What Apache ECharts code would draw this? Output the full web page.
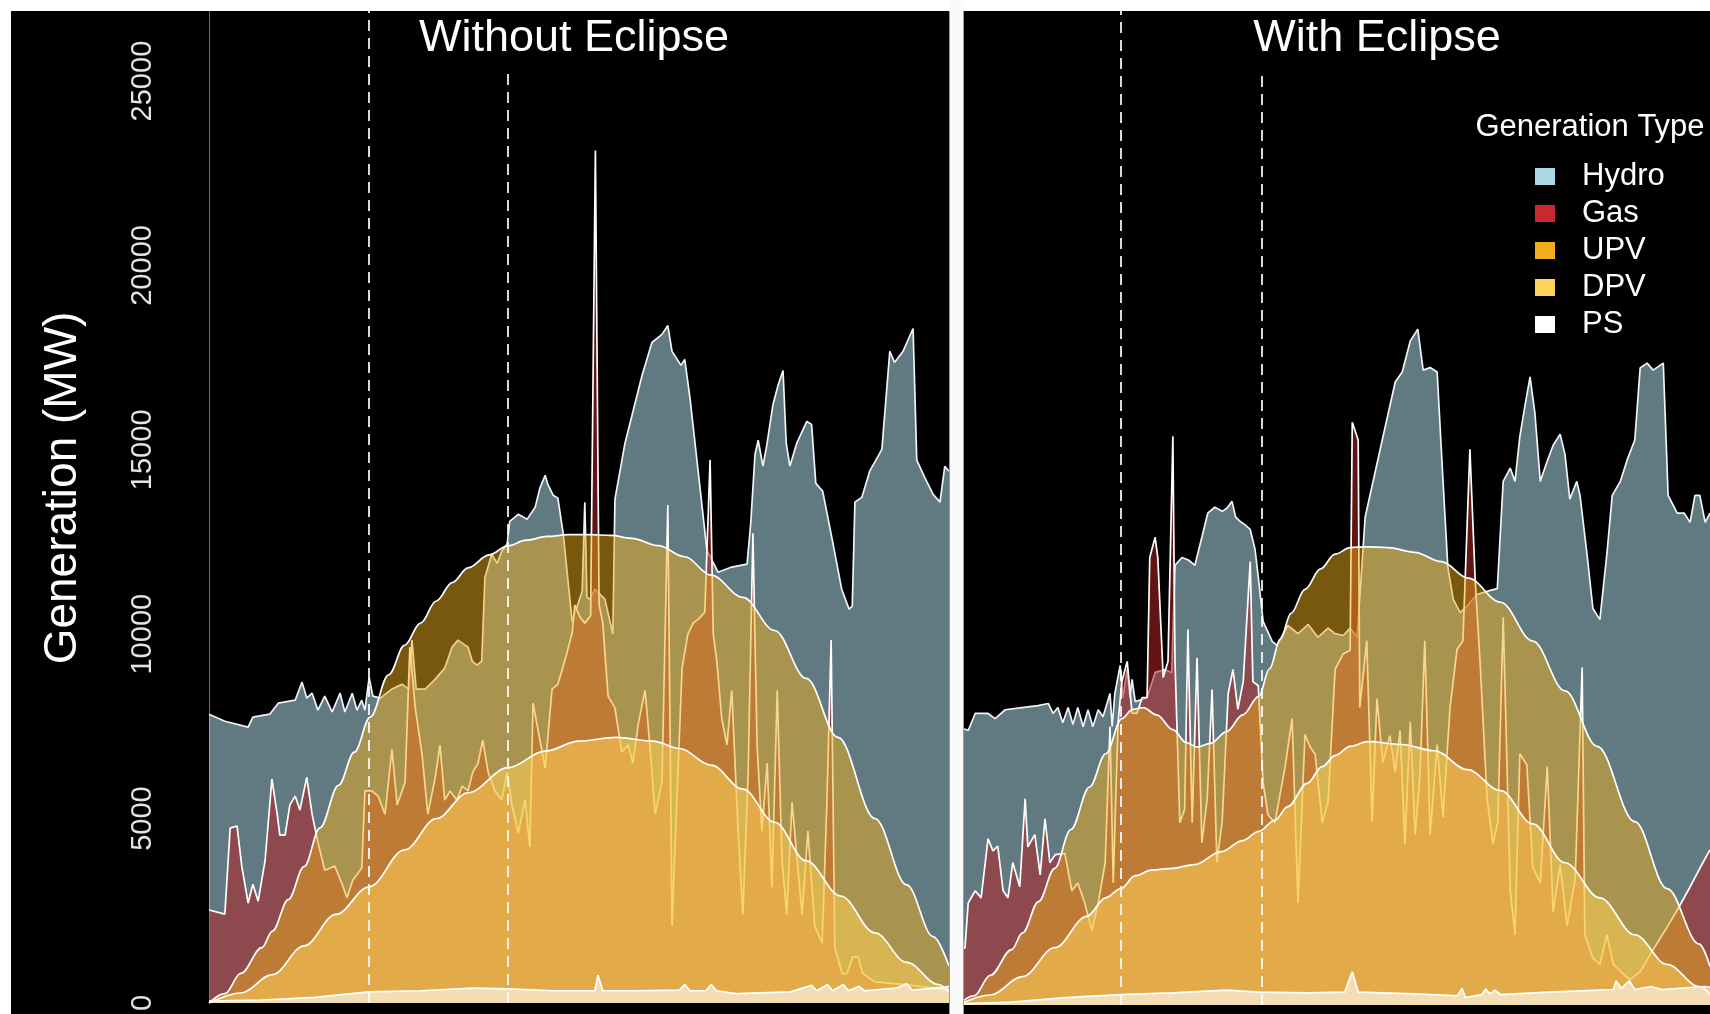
<!DOCTYPE html>
<html>
<head>
<meta charset="utf-8">
<title>Generation by type, with and without eclipse</title>
<script src="https://cdn.jsdelivr.net/npm/echarts@6/dist/echarts.min.js"></script>
<style>
html,body{margin:0;padding:0;background:#fff;}
#chart{width:1710px;height:1014px;}
</style>
</head>
<body>
<div id="chart"></div>
<script>
// generation types, drawn in this order
var types = ['Hydro', 'Gas', 'UPV', 'DPV', 'PS'];
var panelTitles = ['Without Eclipse', 'With Eclipse'];
var eclipseTimes = [9.03, 11.65];          // start / end of the eclipse (hour of day)
var yTicks = [0, 5000, 10000, 15000, 20000, 25000];

// ---- Without Eclipse : [hour, MW]
var hydroNoEclipse = [[6.00,7830],[6.30,7640],[6.74,7480],[6.83,7750],[7.15,7830],[7.31,8130],[7.63,8210],[7.76,8700],[7.85,8265],[7.95,8400],[8.06,7940],[8.19,8320],[8.33,7890],[8.48,8400],[8.57,7890],[8.71,8400],[8.80,7940],[8.89,8210],[8.95,7940],[9.03,8830],[9.10,8320],[9.24,8265],[9.46,8510],[9.65,8645],[9.78,8510],[9.84,9840],[9.92,8510],[10.09,8510],[10.28,8780],[10.46,9080],[10.60,9650],[10.71,9840],[10.90,9650],[10.98,9270],[11.07,9160],[11.16,9270],[11.22,11540],[11.35,12170],[11.45,11920],[11.54,12250],[11.64,12440],[11.69,13060],[11.85,13250],[12.02,13120],[12.17,13440],[12.26,13960],[12.36,14310],[12.41,14060],[12.51,13770],[12.60,13690],[12.70,12740],[12.87,10350],[13.06,11165],[13.11,13580],[13.15,11000],[13.21,10950],[13.30,11220],[13.49,10950],[13.64,10000],[13.68,13660],[13.87,15180],[14.19,17000],[14.38,17910],[14.57,18130],[14.68,18370],[14.76,17670],[14.93,17290],[15.00,17450],[15.10,16400],[15.29,13960],[15.42,12280],[15.63,11680],[15.89,11820],[16.18,11900],[16.25,13030],[16.33,14880],[16.39,15260],[16.48,14560],[16.55,15100],[16.67,16230],[16.77,16770],[16.86,17150],[16.92,15180],[16.99,14560],[17.12,15180],[17.31,15770],[17.40,15690],[17.48,14090],[17.61,13880],[17.79,12570],[17.97,11220],[18.11,10680],[18.17,10760],[18.22,13580],[18.35,13710],[18.50,14420],[18.73,15010],[18.88,17670],[18.97,17370],[19.13,17670],[19.32,18290],[19.39,14720],[19.54,14250],[19.70,13790],[19.83,13580],[19.92,14550],[20.00,14420]];
var gasNoEclipse = [[6.00,2520],[6.30,2410],[6.40,4740],[6.53,4800],[6.62,3710],[6.74,2710],[6.83,3220],[6.93,2760],[7.06,3850],[7.19,6070],[7.29,5120],[7.34,4550],[7.44,4550],[7.53,5370],[7.63,5610],[7.72,5230],[7.85,6120],[7.95,5120],[8.06,4360],[8.19,3600],[8.38,3710],[8.52,3220],[8.61,2850],[8.72,3330],[8.89,3660],[8.95,5750],[9.08,5750],[9.20,5610],[9.33,5120],[9.46,6880],[9.56,5370],[9.71,5990],[9.80,9650],[9.90,8020],[10.03,6750],[10.14,5120],[10.28,6120],[10.37,6990],[10.46,5500],[10.56,5750],[10.69,5500],[10.79,5880],[10.90,5750],[10.99,6260],[11.09,6500],[11.18,7130],[11.28,6260],[11.41,5750],[11.54,5500],[11.64,6260],[11.73,5370],[11.85,4610],[11.98,5500],[12.07,4230],[12.13,8130],[12.26,7130],[12.36,6370],[12.49,8510],[12.60,8640],[12.73,9270],[12.87,10030],[12.92,10790],[13.02,10460],[13.11,10300],[13.22,10500],[13.31,23120],[13.38,10800],[13.45,10300],[13.55,8320],[13.68,8000],[13.81,6800],[13.93,7000],[14.02,6500],[14.12,7560],[14.25,8480],[14.34,7000],[14.44,5120],[14.57,6000],[14.68,13500],[14.76,2090],[14.85,5450],[14.95,9080],[15.06,10000],[15.16,10300],[15.29,10450],[15.38,10600],[15.48,14720],[15.54,10000],[15.61,9240],[15.70,7720],[15.80,7000],[15.89,8480],[16.01,4660],[16.10,2390],[16.20,6200],[16.29,12740],[16.37,6960],[16.46,4660],[16.56,6500],[16.65,3140],[16.75,8480],[16.84,3900],[16.93,2390],[17.03,5450],[17.12,4000],[17.22,2390],[17.33,4660],[17.46,2090],[17.60,1630],[17.69,5450],[17.77,9840],[17.84,1490],[17.98,790],[18.07,800],[18.18,1250],[18.28,1250],[18.37,790],[18.60,570],[19.22,490],[20.00,350]];
var upvNoEclipse = [[6.0,0],[6.3,250],[6.6,800],[7.0,1500],[7.2,1950],[7.5,2800],[7.8,3700],[8.1,4750],[8.45,5900],[8.75,6800],[9.05,7750],[9.4,8900],[9.7,9700],[10.0,10300],[10.3,10900],[10.6,11400],[10.9,11800],[11.3,12150],[11.66,12400],[12.0,12550],[12.4,12650],[12.8,12700],[13.2,12700],[13.6,12680],[14.0,12600],[14.5,12400],[15.0,12100],[15.5,11600],[16.1,11000],[16.7,10100],[17.3,8800],[17.9,7200],[18.6,5000],[19.2,3200],[19.7,1800],[20.0,1000]];
var dpvNoEclipse = [[6.0,0],[6.6,270],[7.2,770],[7.8,1550],[8.4,2400],[9.03,3150],[9.7,4150],[10.3,5000],[10.9,5700],[11.66,6380],[12.36,6830],[13.0,7100],[13.7,7200],[14.4,7100],[14.9,6900],[15.5,6450],[16.1,5800],[16.7,4900],[17.3,3850],[17.95,2900],[18.6,1900],[19.2,1100],[19.8,500],[20.0,300]];
var psNoEclipse = [[6.0,50],[7.0,80],[8.0,150],[9.03,300],[10.0,330],[11.0,400],[11.66,380],[12.5,330],[13.0,330],[13.3,330],[13.36,750],[13.45,330],[14.0,330],[14.9,350],[15.0,500],[15.1,330],[15.4,330],[15.5,500],[15.6,330],[16.0,250],[17.0,300],[17.4,480],[17.5,330],[17.7,500],[17.8,330],[18.0,500],[18.1,330],[18.3,450],[18.4,330],[19.0,400],[19.2,520],[19.3,350],[19.9,420],[20.0,450]];

// ---- With Eclipse : [hour, MW]
var hydroEclipse = [[6.00,7530],[6.19,7430],[6.32,7890],[6.56,7890],[6.69,7750],[6.88,7990],[7.19,8050],[7.49,8100],[7.68,8160],[7.77,7890],[7.86,8050],[7.95,7640],[8.05,8050],[8.14,7590],[8.23,8050],[8.33,7530],[8.42,7990],[8.51,7530],[8.61,7990],[8.70,7800],[8.83,8430],[8.87,7530],[8.92,8430],[9.02,9190],[9.07,8320],[9.15,9080],[9.20,8320],[9.24,8810],[9.30,8210],[9.43,8270],[9.52,8320],[9.67,9000],[9.85,9080],[9.98,9000],[10.04,11900],[10.17,12110],[10.28,12050],[10.41,11900],[10.54,12660],[10.65,13310],[10.78,13470],[10.92,13360],[11.01,13450],[11.10,13630],[11.17,13200],[11.25,13090],[11.34,13000],[11.44,12870],[11.53,12330],[11.60,11460],[11.68,10380],[11.85,9840],[11.94,9730],[12.14,10270],[12.33,10050],[12.52,10300],[12.70,9950],[12.89,10200],[13.02,10050],[13.17,10000],[13.30,10200],[13.43,9950],[13.58,13200],[13.86,15040],[14.14,16860],[14.27,17130],[14.42,17970],[14.56,18290],[14.66,17180],[14.79,17250],[14.92,17130],[15.03,14170],[15.12,11840],[15.22,10980],[15.35,10620],[15.48,10800],[15.66,11110],[15.91,11220],[16.04,11270],[16.15,14170],[16.28,14530],[16.37,14170],[16.46,15390],[16.56,16260],[16.65,17000],[16.74,16020],[16.84,14170],[16.97,14720],[17.08,15150],[17.21,15450],[17.30,14900],[17.39,13690],[17.52,14170],[17.58,13790],[17.71,12200],[17.82,10730],[17.95,10430],[18.08,12200],[18.18,13790],[18.33,14170],[18.47,14800],[18.60,15290],[18.70,17240],[18.83,17370],[18.94,17180],[19.13,17370],[19.22,13790],[19.39,13310],[19.52,13310],[19.63,13060],[19.72,13790],[19.81,13790],[19.91,13060],[20.00,13310]];
var gasEclipse = [[6.00,1540],[6.13,1540],[6.19,2760],[6.32,3090],[6.43,2900],[6.56,4500],[6.65,4170],[6.74,4300],[6.84,3090],[6.93,2900],[7.02,3850],[7.15,3200],[7.25,5580],[7.30,4280],[7.43,4610],[7.53,3520],[7.62,5040],[7.71,3850],[7.81,4070],[7.99,4100],[8.12,3090],[8.23,3300],[8.36,2760],[8.49,2010],[8.61,2760],[8.74,3850],[8.83,7530],[8.89,3310],[8.98,7640],[9.05,8750],[9.15,9300],[9.24,7900],[9.33,7890],[9.43,8320],[9.52,8320],[9.57,12110],[9.67,12660],[9.72,12100],[9.82,8860],[9.91,9300],[10.00,15390],[10.04,9300],[10.13,4930],[10.22,5300],[10.28,10160],[10.36,4930],[10.45,9400],[10.54,4390],[10.64,5600],[10.73,8540],[10.82,3850],[10.92,5000],[11.03,8430],[11.12,9080],[11.21,8000],[11.31,8750],[11.44,12000],[11.49,8750],[11.59,8640],[11.68,6020],[11.77,5150],[11.90,4930],[12.09,6450],[12.22,7750],[12.33,2760],[12.46,7320],[12.55,7000],[12.65,6780],[12.78,4930],[12.89,5500],[13.02,9080],[13.17,9500],[13.30,9600],[13.34,15770],[13.45,15290],[13.48,8050],[13.61,9860],[13.71,4960],[13.80,8290],[13.91,6560],[14.04,7290],[14.14,6310],[14.23,7430],[14.32,4360],[14.42,7670],[14.51,4610],[14.60,6200],[14.69,9860],[14.79,4610],[14.92,7050],[15.03,5090],[15.16,8050],[15.29,9620],[15.40,9860],[15.53,15040],[15.63,11460],[15.72,9270],[15.85,5580],[15.96,4360],[16.05,4960],[16.15,10490],[16.28,3120],[16.37,1900],[16.46,6800],[16.59,6500],[16.70,3740],[16.84,3300],[16.97,6450],[17.08,2520],[17.21,3800],[17.34,2140],[17.49,3400],[17.62,9130],[17.67,1900],[17.82,1270],[17.95,1100],[18.08,1900],[18.20,1100],[18.33,920],[18.51,680],[18.70,900],[18.88,1350],[19.07,1800],[19.26,2250],[19.44,2700],[19.63,3200],[19.81,3700],[20.00,4200]];
var upvEclipse = [[6.0,0],[6.3,250],[6.6,800],[7.0,1500],[7.2,1950],[7.5,2800],[7.8,3700],[8.1,4750],[8.45,5900],[8.75,6800],[9.05,7750],[9.25,8000],[9.45,8050],[9.7,7850],[10.0,7450],[10.25,7100],[10.45,6980],[10.7,7080],[11.0,7400],[11.3,7850],[11.6,8350],[11.8,9100],[12.0,9900],[12.2,10600],[12.46,11250],[12.75,11800],[13.02,12200],[13.3,12380],[13.6,12400],[14.0,12380],[14.5,12250],[15.0,12000],[15.5,11550],[16.1,10900],[16.7,9850],[17.3,8500],[17.9,7000],[18.6,4960],[19.2,3150],[19.8,1650],[20.0,1050]];
var dpvEclipse = [[6.0,0],[6.6,270],[7.2,770],[7.8,1550],[8.4,2400],[8.75,2900],[9.03,3150],[9.3,3500],[9.6,3650],[10.0,3700],[10.4,3800],[10.9,4150],[11.3,4450],[11.6,4700],[11.9,5000],[12.14,5370],[12.5,6000],[12.78,6450],[13.02,6750],[13.3,7000],[13.63,7130],[14.26,7050],[14.87,6880],[15.48,6370],[16.1,5800],[16.7,4900],[17.3,3850],[17.95,2900],[18.6,1900],[19.2,1100],[19.8,500],[20.0,300]];
var psEclipse = [[6.0,30],[7.0,80],[8.0,200],[9.03,280],[10.0,330],[11.0,400],[11.6,350],[12.5,330],[13.2,350],[13.34,900],[13.45,350],[14.5,300],[15.3,250],[15.38,450],[15.45,200],[15.75,280],[15.82,430],[15.9,300],[16.0,400],[16.1,280],[17.0,350],[18.2,420],[18.25,650],[18.35,450],[18.5,650],[18.6,420],[18.9,500],[19.1,420],[19.9,500],[20.0,480]];

var legendColors = ['#add8e6', '#c62a2f', '#f0ae1e', '#ffd35c', '#ffffff'];
var fillColors = ['#add8e6', '#b22222', '#f0ae1e', '#ffd257', '#ffffff'];
var fillOpacity = [0.56, 0.55, 0.5, 0.55, 0.6];
var smoothType = [false, false, true, true, false];

var panelData = [
    [hydroNoEclipse, gasNoEclipse, upvNoEclipse, dpvNoEclipse, psNoEclipse],
    [hydroEclipse, gasEclipse, upvEclipse, dpvEclipse, psEclipse]
];

var chart = echarts.init(document.getElementById('chart'), null, {renderer: 'canvas'});
var font = 'Liberation Sans';

var series = [];
for (var p = 0; p < 2; p++) {
    for (var i = 0; i < types.length; i++) {
        var s = {
            name: types[i],
            type: 'line',
            xAxisIndex: p,
            yAxisIndex: p,
            z: 10 + i,   // each layer (fill + outline) sits over the previous one
            data: panelData[p][i],
            showSymbol: false,
            smooth: smoothType[i] ? 0.35 : false,
            smoothMonotone: 'x',
            itemStyle: {color: legendColors[i]},
            lineStyle: {color: i == 0 ? '#eef4f7' : '#ffffff', width: 1.7},
            areaStyle: {color: fillColors[i], opacity: fillOpacity[i]},
            silent: true
        };
        // eclipse start / end, drawn over every layer
        if (i == types.length - 1) {
            s.markLine = {
                silent: true,
                z: 40,
                symbol: ['none', 'none'],
                label: {show: false},
                lineStyle: {color: 'rgba(255,255,255,0.85)', type: [11, 7], width: 2},
                data: eclipseTimes.map(function (t) { return {xAxis: t}; })
            };
        }
        series.push(s);
    }
}

var option = {
    animation: false,
    backgroundColor: '#000',
    title: [
        {text: panelTitles[0], left: 562, top: 11, z: 50, textAlign: 'center', backgroundColor: '#000',
         padding: [5, 12, 10, 12], textStyle: {color: '#fff', fontSize: 45, fontWeight: 'normal', fontFamily: font}},
        {text: panelTitles[1], left: 1365, top: 11, z: 50, textAlign: 'center', backgroundColor: '#000',
         padding: [5, 12, 10, 12], textStyle: {color: '#fff', fontSize: 45, fontWeight: 'normal', fontFamily: font}}
    ],
    legend: {
        orient: 'vertical',
        left: 1530,
        top: 156,
        z: 50,
        icon: 'rect',
        itemWidth: 20,
        itemHeight: 17,
        itemGap: 6,
        selectedMode: false,
        textStyle: {color: '#fff', fontSize: 31, fontFamily: font, lineHeight: 30, padding: [0, 0, 0, 22]},
        data: types.map(function (n, i) {
            return {name: n, itemStyle: {color: legendColors[i], borderWidth: 0}};
        })
    },
    grid: [
        {left: 209, top: 11, width: 740, bottom: 9},
        {left: 958, top: 11, width: 752, bottom: 9}
    ],
    xAxis: [
        {type: 'value', gridIndex: 0, min: 6, max: 20, show: false},
        {type: 'value', gridIndex: 1, min: 6, max: 20, show: false}
    ],
    yAxis: [
        {
            type: 'value', gridIndex: 0, min: 0, max: 26900, interval: 5000,
            axisLine: {show: true, lineStyle: {color: '#6a6a6a', width: 1}},
            axisTick: {show: false},
            splitLine: {show: false},
            axisLabel: {
                rotate: 90, margin: 52, color: '#e4e4e4', fontSize: 29, fontFamily: font,
                formatter: function (v) { return yTicks.indexOf(v) >= 0 ? String(v) : ''; }
            }
        },
        {
            type: 'value', gridIndex: 1, min: 0, max: 26900, interval: 5000,
            axisLine: {show: false}, axisTick: {show: false}, splitLine: {show: false},
            axisLabel: {show: false}
        }
    ],
    graphic: [
        // white frame and panel separator
        {type: 'rect', z: 100, shape: {x: 0, y: 0, width: 1710, height: 11}, style: {fill: '#fff'}},
        {type: 'rect', z: 100, shape: {x: 0, y: 0, width: 11, height: 1014}, style: {fill: '#fff'}},
        {type: 'rect', z: 100, shape: {x: 949, y: 0, width: 15, height: 1014}, style: {fill: '#fafafa'}},
        {type: 'rect', z: 101, shape: {x: 949, y: 11, width: 1, height: 1003}, style: {fill: '#9a9a9a'}},
        {type: 'rect', z: 101, shape: {x: 963, y: 11, width: 1, height: 1003}, style: {fill: '#9a9a9a'}},
        {
            type: 'text', z: 100, x: 63, y: 488, rotation: Math.PI / 2,
            style: {text: 'Generation (MW)', fill: '#fff', font: '46px "Liberation Sans"',
                    align: 'center', verticalAlign: 'middle'}
        },
        {
            type: 'text', z: 100, x: 1590, y: 127,
            style: {text: 'Generation Type', fill: '#fff', font: '31px "Liberation Sans"',
                    align: 'center', verticalAlign: 'middle'}
        }
    ],
    series: series
};

chart.setOption(option);
</script>
</body>
</html>
